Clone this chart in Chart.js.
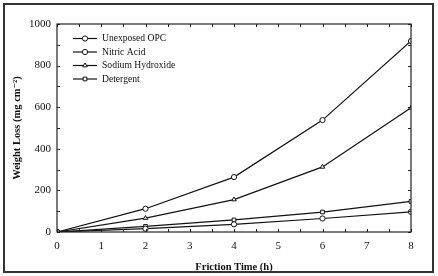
<!DOCTYPE html>
<html>
<head>
<meta charset="utf-8">
<script src="https://cdn.jsdelivr.net/npm/chart.js@4.4.0/dist/chart.umd.min.js"></script>
<style>
    html, body { margin: 0; padding: 0; background: #fff; }
    #wrap { position: relative; width: 438px; height: 276px; }
    #frame { position: absolute; left: 3px; top: 3px; width: 427px; height: 266px; border: 2px solid #333; pointer-events: none; }
</style>
</head>
<body>
<div id="wrap">
    <canvas id="lossChart" width="438" height="276"></canvas>
    <div id="frame"></div>
</div>
<script>
// Friction time (h)
const hours = [0, 2, 4, 6, 8];

// Weight loss (mg cm-2)
const unexposedOpc = [0, 16, 37, 65, 97];
const nitricAcid = [0, 112, 264, 538, 918];
const sodiumHydroxide = [0, 67, 156, 313, 597];
const detergent = [0, 27, 58, 96, 147];

const seriesLabels = ['Unexposed OPC', 'Nitric Acid', 'Sodium Hydroxide', 'Detergent'];
const seriesValues = [unexposedOpc, nitricAcid, sodiumHydroxide, detergent];
const seriesMarkers = ['circle', 'circle', 'triangle', 'rect'];

const xTickLabels = [0, 1, 2, 3, 4, 5, 6, 7, 8];
const yTickLabels = [0, 200, 400, 600, 800, 1000];

const serif = "'Liberation Serif', 'DejaVu Serif', serif";

function toPoints(values) {
    return hours.map((h, i) => ({ x: h, y: values[i] }));
}

// Inward ticks on all four sides plus the plot box
const boxTicks = {
    id: 'boxTicks',
    afterDraw(chart) {
        const ctx = chart.ctx;
        const area = chart.chartArea;
        const xs = chart.scales.x;
        const ys = chart.scales.y;
        ctx.save();
        ctx.strokeStyle = '#222';
        ctx.lineWidth = 1;
        ctx.beginPath();
        xs.ticks.forEach(t => {
            const px = Math.round(xs.getPixelForValue(t.value)) + 0.5;
            ctx.moveTo(px, area.bottom);
            ctx.lineTo(px, area.bottom - 3);
            ctx.moveTo(px, area.top);
            ctx.lineTo(px, area.top + 3);
        });
        ys.ticks.forEach(t => {
            const py = Math.round(ys.getPixelForValue(t.value)) + 0.5;
            ctx.moveTo(area.left, py);
            ctx.lineTo(area.left + 3, py);
            ctx.moveTo(area.right, py);
            ctx.lineTo(area.right - 3, py);
        });
        ctx.stroke();
        ctx.lineWidth = 1.2;
        ctx.strokeRect(area.left, area.top, area.right - area.left, area.bottom - area.top);
        ctx.restore();
    }
};

// Line-and-marker legend in the top left of the plot
const boxLegend = {
    id: 'boxLegend',
    afterDraw(chart) {
        const ctx = chart.ctx;
        const area = chart.chartArea;
        ctx.save();
        ctx.font = '9.6px ' + serif;
        ctx.textBaseline = 'middle';
        chart.data.datasets.forEach((ds, i) => {
            const y = area.top + 14.5 + i * 13.5;
            const x0 = area.left + 16;
            const x1 = area.left + 40;
            ctx.strokeStyle = '#111';
            ctx.lineWidth = 1.2;
            ctx.beginPath();
            ctx.moveTo(x0, y);
            ctx.lineTo(x1, y);
            ctx.stroke();
            ctx.fillStyle = '#fff';
            ctx.lineWidth = 1;
            Chart.helpers.drawPoint(ctx, {
                pointStyle: ds.pointStyle,
                radius: ds.pointRadius,
                borderWidth: 1
            }, (x0 + x1) / 2, y);
            ctx.fillStyle = '#111';
            ctx.fillText(ds.label, area.left + 45, y);
        });
        ctx.restore();
    }
};

const ctx = document.getElementById('lossChart');
new Chart(ctx, {
    type: 'line',
    data: {
        datasets: seriesLabels.map((label, i) => ({
            label: label,
            data: toPoints(seriesValues[i]),
            borderColor: '#111',
            borderWidth: 1.2,
            backgroundColor: '#fff',
            pointStyle: seriesMarkers[i],
            pointRadius: 2.6,
            pointBorderWidth: 1,
            pointBorderColor: '#111',
            pointBackgroundColor: '#fff',
            tension: 0,
            fill: false
        }))
    },
    options: {
        responsive: false,
        animation: false,
        devicePixelRatio: 1,
        layout: { padding: 0 },
        plugins: {
            legend: { display: false },
            tooltip: { enabled: false }
        },
        scales: {
            x: {
                type: 'linear',
                min: 0,
                max: 8,
                afterFit(scale) { scale.height = 44; },
                afterBuildTicks(scale) {
                    const t = [];
                    for (let v = 0; v <= 16; v++) t.push({ value: v / 2 });
                    scale.ticks = t;
                },
                grid: { display: false, drawTicks: false },
                border: { display: false },
                ticks: {
                    padding: 8,
                    color: '#111',
                    font: { family: serif, size: 11 },
                    callback: v => (xTickLabels.includes(v) ? String(v) : '')
                },
                title: {
                    display: true,
                    text: 'Friction Time (h)',
                    color: '#111',
                    font: { family: serif, size: 10.5, weight: 'bold' },
                    padding: { top: 0, bottom: 2 }
                }
            },
            y: {
                min: 0,
                max: 1000,
                afterFit(scale) { scale.width = 57; },
                afterBuildTicks(scale) {
                    const t = [];
                    for (let v = 0; v <= 1000; v += 50) t.push({ value: v });
                    scale.ticks = t;
                },
                grid: { display: false, drawTicks: false },
                border: { display: false },
                ticks: {
                    padding: 6,
                    color: '#111',
                    font: { family: serif, size: 11 },
                    callback: v => (yTickLabels.includes(v) ? String(v) : '')
                },
                title: {
                    display: true,
                    text: 'Weight Loss (mg cm\u207B\u00B2)',
                    color: '#111',
                    font: { family: serif, size: 10.5, weight: 'bold' },
                    padding: { top: 11, bottom: 0 }
                }
            },
            x2: {
                type: 'linear',
                position: 'top',
                display: true,
                afterFit(scale) { scale.height = 24; },
                grid: { display: false },
                border: { display: false },
                ticks: { display: false }
            },
            y2: {
                position: 'right',
                display: true,
                afterFit(scale) { scale.width = 27; },
                grid: { display: false },
                border: { display: false },
                ticks: { display: false }
            }
        }
    },
    plugins: [boxTicks, boxLegend]
});
</script>
</body>
</html>
